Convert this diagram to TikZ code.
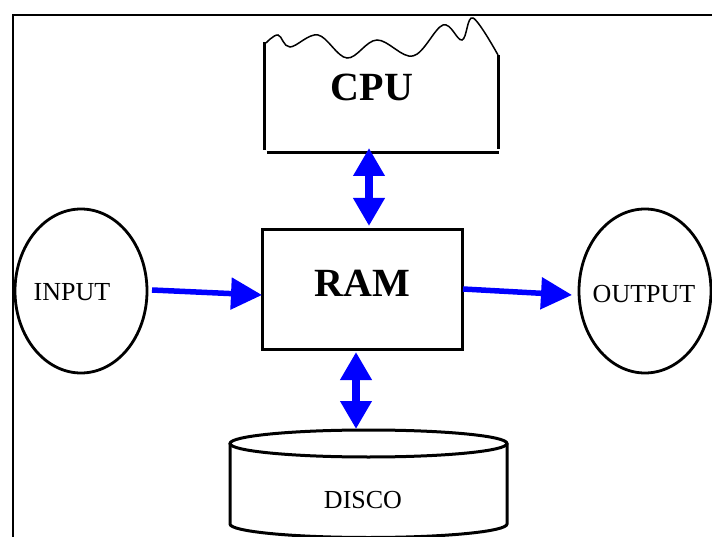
\documentclass[tikz,border=0pt]{standalone}
\usepackage{fontspec}
\setmainfont{Liberation Serif}
\usetikzlibrary{arrows.meta,shapes.geometric}
\tikzset{
  frameline/.style={line width=2.2pt},
  ovalnode/.style={draw, ellipse, line width=2.8pt, minimum width=132pt, minimum height=164pt, inner sep=0pt, font=\fontsize{26}{28}\selectfont},
  boxnode/.style={draw, line width=3pt, minimum width=200pt, minimum height=120pt, inner sep=0pt},
  bigbold/.style={font=\fontsize{40}{44}\selectfont\bfseries},
  flowarrow/.style={draw=blue, line width=5.5pt, -{Triangle[length=31pt,width=31pt]}, blue},
  twoway/.style={draw=blue, line width=8pt, {Triangle[length=28pt,width=30pt]}-{Triangle[length=28pt,width=30pt]}, blue, shorten <=0pt, shorten >=0pt},
  cpuline/.style={line width=3pt},
}
\begin{document}
\begin{tikzpicture}[x=1pt,y=-1pt]
\useasboundingbox (0,0) rectangle (712,537);
\clip (0,0) rectangle (712,537);
% frame
\draw[frameline] (714,15) -- (13,15) -- (13,540);
% CPU
\node[minimum width=234pt, minimum height=111pt, inner sep=0pt] (cpubox) at (381,97.5) {};
\draw[cpuline] (264.5,42) -- (264.5,150);
\draw[cpuline] (498,55) -- (498,149);
\draw[cpuline] (267,153) -- (499,153);
\draw[line width=1.5pt] plot[smooth, tension=0.6] coordinates {(266,43) (278,35) (290,47) (318,35) (347,58) (377,40) (413,56) (443,25) (462,40) (473,18) (498,55)};
\node[bigbold] (cpu) at (372,87) {CPU};
% RAM
\node[boxnode] (ram) at (362,289.5) {};
\node[bigbold] (ramlabel) at (362,283) {RAM};
% input / output
\node[ovalnode] (input) at (81,291) {};
\node[font=\fontsize{26}{28}\selectfont] (inputlabel) at (72,292) {INPUT};
\node[ovalnode] (output) at (645,291) {};
\node[font=\fontsize{26}{28}\selectfont] (outputlabel) at (644,294) {OUTPUT};
% disco
\draw[line width=3pt] (368.5,443.5) ellipse [x radius=138.5, y radius=13.5];
\draw[line width=3pt] (230,443.5) -- (230,524) arc[start angle=180, end angle=0, x radius=138.5, y radius=13.5] -- (507,443.5);
\node[font=\fontsize{26}{28}\selectfont] (disco) at (363,500) {DISCO};
% arrows
\coordinate (inA) at (152,290);
\coordinate (inB) at (262,295);
\draw[flowarrow] (inA) -- (inB);
\coordinate (outA) at (463,289);
\coordinate (outB) at (572,295);
\draw[flowarrow] (outA) -- (outB);
\coordinate (c1) at (369,148);
\coordinate (c2) at (369,226);
\draw[twoway] (c1) -- (c2);
\coordinate (d1) at (356,352);
\coordinate (d2) at (356,429);
\draw[twoway] (d1) -- (d2);
\end{tikzpicture}
\end{document}
